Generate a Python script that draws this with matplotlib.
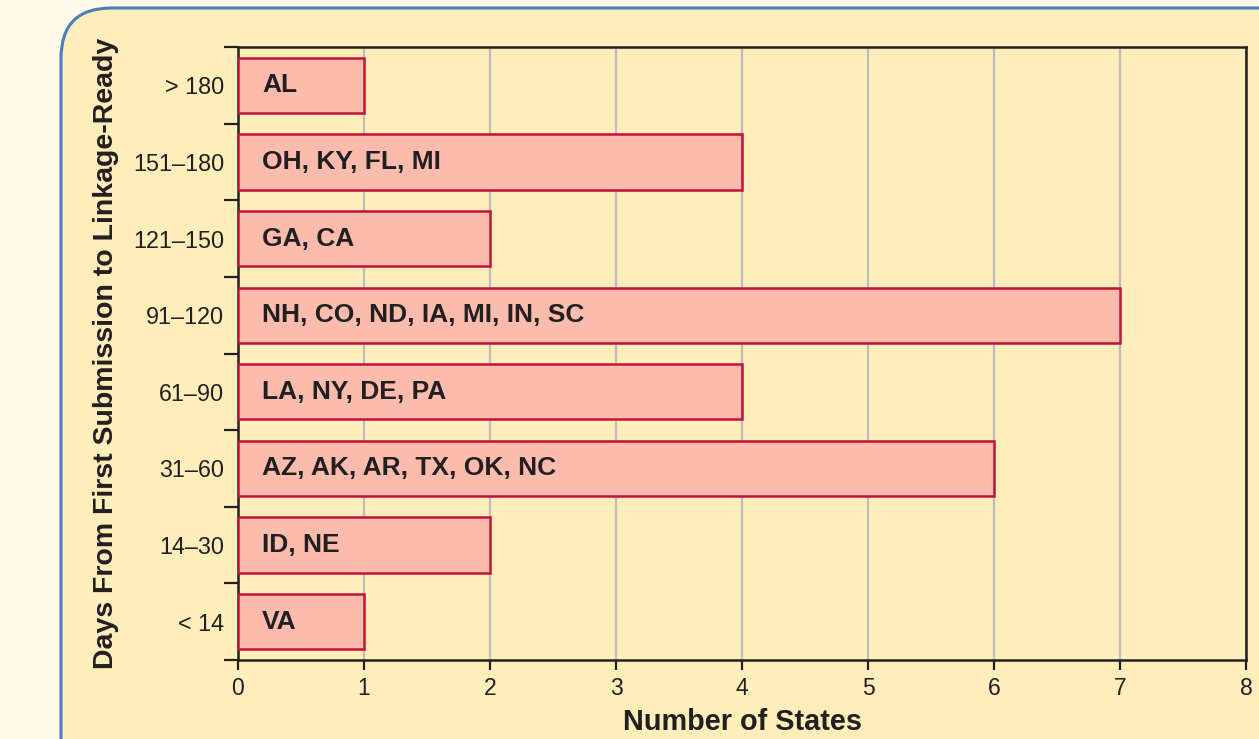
import matplotlib
matplotlib.use("Agg")
import matplotlib.pyplot as plt
from matplotlib.patches import FancyBboxPatch
import numpy as np

categories = ["< 14", "14–30", "31–60", "61–90", "91–120", "121–150", "151–180", "> 180"]
counts = [1, 2, 6, 4, 7, 2, 4, 1]
states = ["VA", "ID, NE", "AZ, AK, AR, TX, OK, NC", "LA, NY, DE, PA",
          "NH, CO, ND, IA, MI, IN, SC", "GA, CA", "OH, KY, FL, MI", "AL"]
xticks = [0, 1, 2, 3, 4, 5, 6, 7, 8]

plt.rcParams['font.family'] = ['Liberation Sans', 'DejaVu Sans']

W, H = 1259, 739
fig = plt.figure(figsize=(W / 100, H / 100), dpi=100)
fig.patch.set_facecolor("#FEF9E8")

panel = FancyBboxPatch((61 / W, -0.2), 1.3, 1.2 - 8 / H,
                       boxstyle="round,pad=0,rounding_size=0.04",
                       transform=fig.transFigure, facecolor="#FFEDBA",
                       edgecolor="#4A7CC0", linewidth=2.2, zorder=-5,
                       mutation_aspect=W / H)
fig.patches.append(panel)

ax = fig.add_axes([238 / W, 1 - 660 / H, (1246 - 238) / W, (660 - 47) / H])
ax.set_zorder(1)
ax.set_facecolor("#FFEDBA")

y = np.arange(len(categories))
ax.barh(y, counts, height=0.72, color="#FBBCAE", edgecolor="#C2113B",
        linewidth=1.8, zorder=3)
for yi, s in zip(y, states):
    ax.text(0.19, yi, s, va="center", ha="left", fontsize=19,
            fontweight="bold", color="#231F20", zorder=4)

ax.set_xlim(0, 8)
ax.set_ylim(-0.5, len(categories) - 0.5)
ax.set_xticks(xticks)
ax.set_xticklabels([str(v) for v in xticks], fontsize=16.5, color="#231F20")
ax.set_yticks(y)
ax.set_yticklabels(categories, fontsize=16.8, color="#231F20")
ax.set_yticks(np.arange(-0.5, len(categories)), minor=True)
ax.tick_params(axis="y", which="major", length=0, pad=10)
ax.tick_params(axis="y", which="minor", length=10, width=1.6, color="#231F20")
ax.tick_params(axis="x", which="major", length=7, width=1.6, color="#231F20", pad=5)
ax.grid(axis="x", color="#BDBDBD", linewidth=1.6, zorder=1)
ax.set_axisbelow(True)
for sp in ax.spines.values():
    sp.set_linewidth(1.8)
    sp.set_color("#231F20")

ax.set_xlabel("Number of States", fontsize=20.8, fontweight="bold",
              color="#231F20", labelpad=6)
ax.set_ylabel("Days From First Submission to Linkage-Ready", fontsize=20.5,
              fontweight="bold", color="#231F20", labelpad=10)

fig.savefig("out.png", dpi=100, facecolor=fig.get_facecolor())
